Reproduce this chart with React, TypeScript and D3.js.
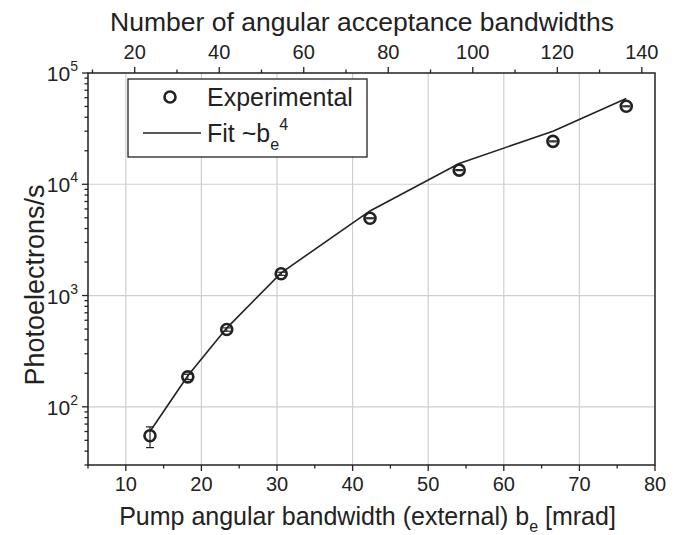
import React from 'react';
import * as d3 from 'd3';

// Measured points (x in mrad, y in photoelectrons/s)
const mrad = [13.2, 18.2, 23.35, 30.55, 42.3, 54.1, 66.5, 76.2];
const photo = [55, 186, 495, 1570, 4950, 13400, 24300, 50200];
const errLow = [43, 176, 478, 1520, 4900, 13250, 24050, 49700];
const errHigh = [66, 196, 512, 1620, 5000, 13550, 24550, 50700];
// Fit ~b_e^4 evaluated at the same x
const fitVals = [60, 190, 510, 1600, 5760, 15350, 30000, 59000];

const bottomMajor = [10, 20, 30, 40, 50, 60, 70, 80];
const bottomMinor = [5, 15, 25, 35, 45, 55, 65, 75];
const topMajor = [20, 40, 60, 80, 100, 120, 140];
const topMinor = [10, 30, 50, 70, 90, 110, 130];
const yMajor = [100, 1000, 10000, 100000];
const bandwidthsPerMrad = 1.789;

const W = 681;
const H = 535;
const L = 88, R = 655, T = 73, B = 465;
const font = '"Liberation Sans", Arial, Helvetica, sans-serif';
const ink = '#222';

const App = () => {
  const x = d3.scaleLinear().domain([5, 80]).range([L, R]);
  const xTop = d3.scaleLinear().domain([5 * bandwidthsPerMrad, 80 * bandwidthsPerMrad]).range([L, R]);
  const y = d3.scaleLog().domain([30, 100000]).range([B, T]);

  // log minor ticks 2..9 per decade inside domain
  const yMinor: number[] = [];
  [10, 100, 1000, 10000].forEach(d => {
    for (let k = 2; k <= 9; k++) {
      const v = d * k;
      if (v >= 30 && v < 100000 && !yMajor.includes(v)) yMinor.push(v);
    }
  });

  const line = d3.line<number>()
    .x((_, i) => x(mrad[i]))
    .y(d => y(d));

  const gridX = bottomMajor.filter(v => v < 80);
  const gridY = yMajor.filter(v => v < 100000);

  return (
    <svg width={W} height={H} style={{ position: 'absolute', left: 0, top: 0, background: '#fff' }}
      fontFamily={font}>
      {/* grid */}
      <g stroke="#cfcfcf" strokeWidth={1.2}>
        {gridX.map(v => <line key={'gx' + v} x1={x(v)} x2={x(v)} y1={T} y2={B} />)}
        {gridY.map(v => <line key={'gy' + v} x1={L} x2={R} y1={y(v)} y2={y(v)} />)}
      </g>

      {/* fit line */}
      <path d={line(fitVals) || ''} fill="none" stroke={ink} strokeWidth={1.6} />

      {/* error bars + markers */}
      <g stroke={ink} fill="none">
        {mrad.map((m, i) => (
          <g key={'p' + i}>
            <line x1={x(m)} x2={x(m)} y1={y(errLow[i])} y2={y(errHigh[i])} strokeWidth={1.2} />
            <line x1={x(m) - 4} x2={x(m) + 4} y1={y(errLow[i])} y2={y(errLow[i])} strokeWidth={1.2} />
            <line x1={x(m) - 4} x2={x(m) + 4} y1={y(errHigh[i])} y2={y(errHigh[i])} strokeWidth={1.2} />
            <circle cx={x(m)} cy={y(photo[i])} r={5.5} strokeWidth={2.6} />
          </g>
        ))}
      </g>

      {/* frame */}
      <rect x={L} y={T} width={R - L} height={B - T} fill="none" stroke={ink} strokeWidth={1.5} />

      {/* bottom axis */}
      <g stroke={ink} strokeWidth={1.3}>
        {bottomMajor.map(v => <line key={'bM' + v} x1={x(v)} x2={x(v)} y1={B} y2={B + 6} />)}
        {bottomMinor.map(v => <line key={'bm' + v} x1={x(v)} x2={x(v)} y1={B} y2={B + 3.5} />)}
      </g>
      <g fill={ink} fontSize={20} textAnchor="middle">
        {bottomMajor.map(v => <text key={'bt' + v} x={x(v)} y={B + 26}>{v}</text>)}
      </g>
      <text x={(L + R) / 2 - 4} y={525} fontSize={25} fill={ink} textAnchor="middle">
        Pump angular bandwidth (external) b<tspan fontSize={16} dy={7}>e</tspan><tspan dy={-7}> [mrad]</tspan>
      </text>

      {/* top axis */}
      <g stroke={ink} strokeWidth={1.3}>
        {topMajor.map(v => <line key={'tM' + v} x1={xTop(v)} x2={xTop(v)} y1={T} y2={T - 6} />)}
        {topMinor.map(v => <line key={'tm' + v} x1={xTop(v)} x2={xTop(v)} y1={T} y2={T - 3.5} />)}
      </g>
      <g fill={ink} fontSize={20} textAnchor="middle">
        {topMajor.map(v => <text key={'tt' + v} x={xTop(v)} y={T - 14}>{v}</text>)}
      </g>
      <text x={362} y={31} fontSize={26.5} fill={ink} textAnchor="middle">
        Number of angular acceptance bandwidths
      </text>

      {/* left axis */}
      <g stroke={ink} strokeWidth={1.3}>
        {yMajor.map(v => <line key={'yM' + v} x1={L} x2={L - 6} y1={y(v)} y2={y(v)} />)}
        {yMinor.map(v => <line key={'ym' + v} x1={L} x2={L - 3.5} y1={y(v)} y2={y(v)} />)}
      </g>
      <g fill={ink} fontSize={21} textAnchor="end">
        {yMajor.map(v => (
          <text key={'yt' + v} x={L - 10} y={y(v) + 8}>
            10<tspan fontSize={14} dy={-10}>{Math.round(Math.log10(v))}</tspan>
          </text>
        ))}
      </g>
      <text transform={`translate(44,285) rotate(-90)`} fontSize={27} fill={ink} textAnchor="middle">
        Photoelectrons/s
      </text>

      {/* legend */}
      <rect x={128} y={79} width={239} height={78} fill="#fff" stroke={ink} strokeWidth={1.3} />
      <circle cx={170} cy={97} r={5.5} fill="none" stroke={ink} strokeWidth={2.6} />
      <text x={207} y={106} fontSize={25} fill={ink}>Experimental</text>
      <line x1={143} x2={201} y1={133} y2={133} stroke={ink} strokeWidth={1.6} />
      <text x={207} y={142} fontSize={25} fill={ink}>
        Fit ~b<tspan fontSize={16} dy={8}>e</tspan><tspan fontSize={16} dy={-20}>4</tspan>
      </text>
    </svg>
  );
};

export default App;
